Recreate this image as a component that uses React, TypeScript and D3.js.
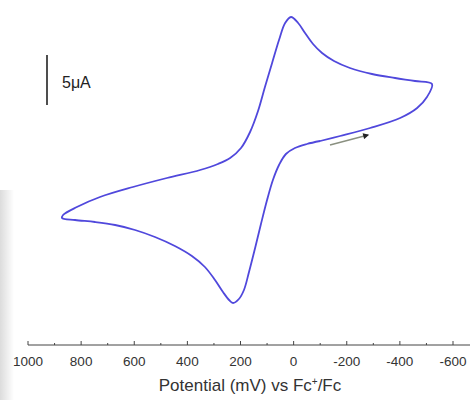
import React, { useEffect, useRef } from 'react'
import * as d3 from 'd3'

// potential (mV vs Fc+/Fc) and current (uA), in scan order
const potential = [
  -100, -175, -288, -401, -465, -502, -521,
  -457, -382, -295, -212, -152, -107, -73, -43, -17, 10,
  32, 55, 81, 108, 134, 164, 198, 239, 285, 352, 477, 605, 729, 816, 868, 872,
  823, 748, 672, 597, 522, 447, 383, 334, 296, 266, 243, 228,
  206, 187, 168, 145, 123, 100, 78, 55, 29, -5, -50, -100,
]
const current = [
  1.9, 2.4, 3.2, 4.2, 5.2, 6.3, 7.6,
  7.9, 8.2, 8.6, 9.2, 9.9, 10.7, 11.6, 12.7, 13.7, 14.3,
  13.7, 12.0, 9.7, 7.3, 4.9, 2.8, 1.2, 0.2, -0.4, -1.0, -1.8, -2.7, -3.7, -4.7, -5.5, -5.8,
  -6.0, -6.2, -6.5, -7.0, -7.7, -8.6, -9.6, -10.7, -12.0, -13.2, -14.0, -14.3,
  -13.9, -13.0, -11.2, -8.8, -6.4, -4.0, -2.0, -0.5, 0.6, 1.2, 1.6, 1.9,
]
const majorTicks = [1000, 800, 600, 400, 200, 0, -200, -400, -600]
const minorTicks = [900, 700, 500, 300, 100, -100, -300, -500]
const scaleBar = 5 // uA
const arrowFrom = [-137, 1.5]
const arrowTo = [-280, 2.5]

const W = 470
const H = 400
const font = 'Liberation Sans, Arial, sans-serif'

export default function App() {
  const ref = useRef<SVGSVGElement>(null)

  useEffect(() => {
    const svg = d3.select(ref.current)
    svg.selectAll('*').remove()

    const x = d3.scaleLinear().domain([1000, -600]).range([28, 453])
    const y = d3.scaleLinear().domain([-16, 16]).range([320, 0])
    const axisY = 345

    // faint grey smudge on the left edge of the scan
    const defs = svg.append('defs')
    const grad = defs.append('linearGradient').attr('id', 'smudge').attr('x1', 0).attr('x2', 1)
    grad.append('stop').attr('offset', 0).attr('stop-color', '#d8d8d8').attr('stop-opacity', 0.9)
    grad.append('stop').attr('offset', 1).attr('stop-color', '#d8d8d8').attr('stop-opacity', 0)
    svg.append('rect').attr('x', 0).attr('y', 190).attr('width', 14).attr('height', 210).attr('fill', 'url(#smudge)')

    const pts: [number, number][] = potential.map((e, i) => [e, current[i]])
    const line = d3.line<[number, number]>()
      .x(d => x(d[0]))
      .y(d => y(d[1]))
      .curve(d3.curveCatmullRom.alpha(0.5))

    svg.append('path')
      .datum(pts)
      .attr('d', line)
      .attr('fill', 'none')
      .attr('stroke', '#5048dc')
      .attr('stroke-width', 1.8)
      .attr('stroke-linejoin', 'round')

    // scan direction arrow
    defs.append('marker')
      .attr('id', 'head')
      .attr('viewBox', '0 0 10 10')
      .attr('refX', 8).attr('refY', 5)
      .attr('markerWidth', 5).attr('markerHeight', 4)
      .attr('orient', 'auto')
      .append('path').attr('d', 'M0,0L10,5L0,10Z').attr('fill', '#222')
    svg.append('line')
      .attr('x1', x(arrowFrom[0])).attr('y1', y(arrowFrom[1]))
      .attr('x2', x(arrowTo[0])).attr('y2', y(arrowTo[1]))
      .attr('stroke', '#8a9080')
      .attr('stroke-width', 1.5)
      .attr('marker-end', 'url(#head)')

    // 5 uA scale bar
    svg.append('line')
      .attr('x1', 47).attr('x2', 47)
      .attr('y1', 55).attr('y2', 55 + (y(0) - y(scaleBar)))
      .attr('stroke', '#222').attr('stroke-width', 1.6)
    svg.append('text')
      .attr('x', 62).attr('y', 88)
      .style('font-family', font)
      .style('font-size', '16px')
      .attr('fill', '#222')
      .text('5μA')

    // x axis, ticks pointing up
    const g = svg.append('g')
    g.append('line')
      .attr('x1', x(1000)).attr('x2', W)
      .attr('y1', axisY).attr('y2', axisY)
      .attr('stroke', '#444').attr('stroke-width', 1)
    g.selectAll('.major').data(majorTicks).enter().append('line')
      .attr('x1', d => x(d)).attr('x2', d => x(d))
      .attr('y1', axisY).attr('y2', axisY - 4)
      .attr('stroke', '#444')
    g.selectAll('.minor').data(minorTicks).enter().append('line')
      .attr('x1', d => x(d)).attr('x2', d => x(d))
      .attr('y1', axisY).attr('y2', axisY - 2)
      .attr('stroke', '#444')
    g.selectAll('.lbl').data(majorTicks).enter().append('text')
      .attr('x', d => x(d)).attr('y', 366)
      .attr('text-anchor', 'middle')
      .style('font-family', font)
      .style('font-size', '13.5px')
      .attr('fill', '#333')
      .text(d => d)

    const title = svg.append('text')
      .attr('x', 250).attr('y', 391)
      .attr('text-anchor', 'middle')
      .style('font-family', font)
      .style('font-size', '17px')
      .attr('fill', '#333')
    title.append('tspan').text('Potential (mV) vs Fc')
    title.append('tspan').attr('dy', -6).style('font-size', '10px').text('+')
    title.append('tspan').attr('dy', 6).text('/Fc')
  }, [])

  return (
    <div style={{ position: 'absolute', left: 0, top: 0 }}>
      <svg ref={ref} width={W} height={H} style={{ display: 'block', background: '#fff' }} />
    </div>
  )
}
